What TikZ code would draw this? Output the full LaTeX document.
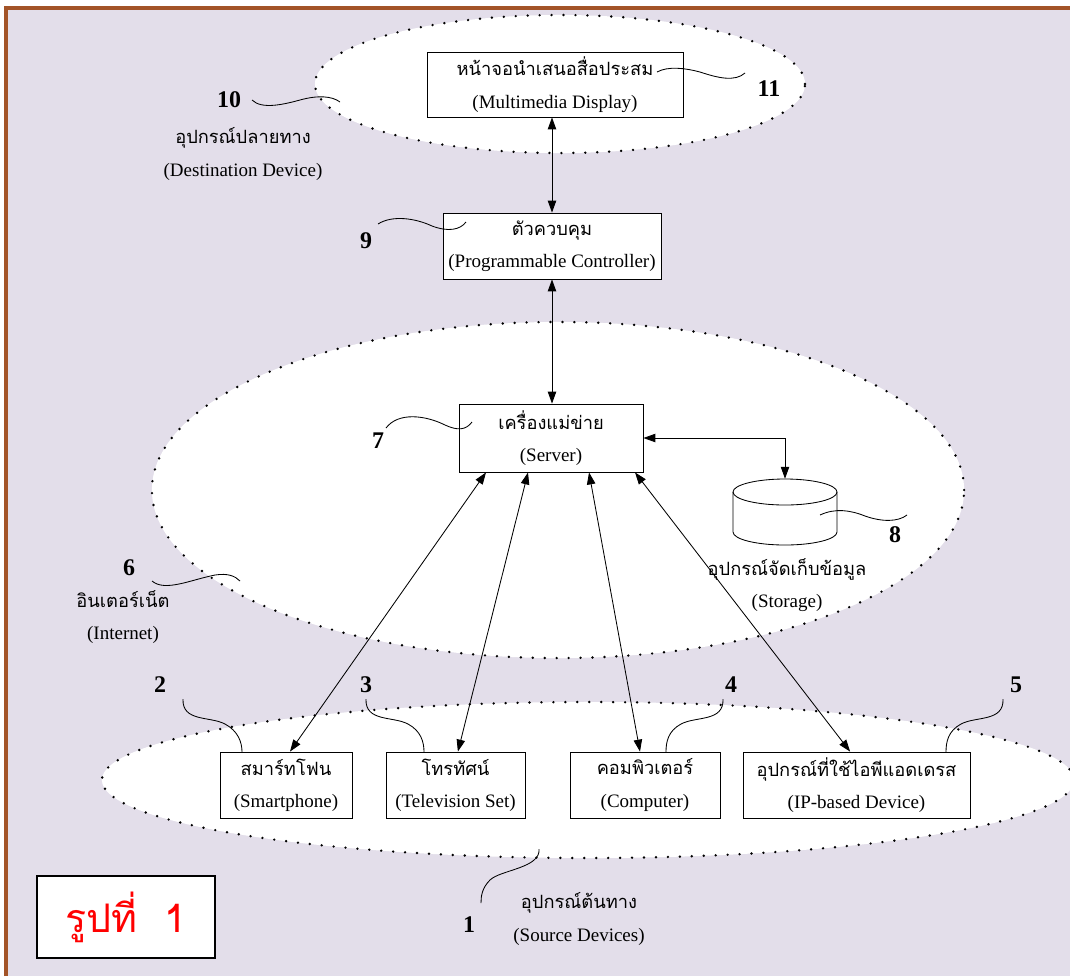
\documentclass[tikz,border=0pt]{standalone}
\usepackage{fontspec}
\setmainfont{Liberation Serif}
\newfontfamily\thaifont[Script=Thai]{Loma}
\usetikzlibrary{arrows.meta}
\definecolor{mylavender}{RGB}{227,222,234}
\definecolor{mybrown}{RGB}{163,84,40}
\definecolor{myred}{RGB}{255,0,0}
\newcommand{\thaitext}[1]{{\thaifont\fontsize{13}{23}\selectfont #1}}

\begin{document}
\begin{tikzpicture}[x=0.025cm,y=-0.025cm,
every node/.style={font=\fontsize{13.5}{23}\selectfont},
devbox/.style={draw,fill=white,line width=0.6pt,align=center,inner sep=0pt},
num/.style={font=\bfseries\fontsize{17}{17}\selectfont},
caption/.style={align=center},
zone/.style={fill=white,line width=1.9pt,line cap=round,dash pattern=on 0pt off 8.5pt},
link/.style={{Triangle[length=8.5pt,width=6pt]}-{Triangle[length=8.5pt,width=6pt]},line width=0.6pt},
wave/.style={line width=0.6pt}]
\useasboundingbox (0,0) rectangle (1070,976);
% background and frame
\fill[white] (0,0) rectangle (1070,976);
\fill[mylavender] (6,8) rectangle (1070,976);
\draw[mybrown, line width=2.4pt] (6,976) -- (6,8) -- (1070,8);
% zones
\draw[zone] (560,84) ellipse [x radius=6.125cm, y radius=1.725cm];
\draw[zone] (558,490) ellipse [x radius=10.15cm, y radius=4.2cm];
\draw[zone] (588,780) ellipse [x radius=12.15cm, y radius=1.95cm];
% devices
\node[devbox, minimum width=6.4cm, minimum height=1.625cm] (display) at (555,84.5)
  {\thaitext{หน้าจอนำเสนอสื่อประสม}\\(Multimedia Display)};
\node[devbox, minimum width=5.45cm, minimum height=1.65cm] (control) at (552,246)
  {\thaitext{ตัวควบคุม}\\(Programmable Controller)};
\node[devbox, minimum width=4.6cm, minimum height=1.7cm] (server) at (551,438)
  {\thaitext{เครื่องแม่ข่าย}\\(Server)};
\node[devbox, minimum width=3.3cm, minimum height=1.65cm] (phone) at (286,785)
  {\thaitext{สมาร์ทโฟน}\\(Smartphone)};
\node[devbox, minimum width=3.475cm, minimum height=1.65cm] (tv) at (455.5,785)
  {\thaitext{โทรทัศน์}\\(Television Set)};
\node[devbox, minimum width=3.75cm, minimum height=1.65cm] (computer) at (645,785)
  {\thaitext{คอมพิวเตอร์}\\(Computer)};
\node[devbox, minimum width=5.675cm, minimum height=1.65cm] (ipdev) at (856.5,785)
  {\thaitext{อุปกรณ์ที่ใช้ไอพีแอดเดรส}\\(IP-based Device)};
% storage
\node[minimum width=2.6cm, minimum height=1.65cm] (storage) at (785,512) {};
\draw[line width=0.6pt] (785,492) ellipse [x radius=1.3cm, y radius=0.325cm];
\draw[line width=0.6pt] (733,492) -- (733,532) arc [start angle=180, end angle=360, x radius=1.3cm, y radius=0.325cm] -- (837,492);
% links
\draw[link] (control.north) -- (control.north |- display.south);
\draw[link] (control.south) -- (control.south |- server.north);
\draw[link] (server.east) -| (storage.north);
\draw[link] ([xshift=-1.625cm]server.south) -- ([xshift=0.1cm]phone.north);
\draw[link] ([xshift=-0.575cm]server.south) -- ([xshift=0.06cm]tv.north);
\draw[link] ([xshift=0.95cm]server.south) -- ([xshift=-0.125cm]computer.north);
\draw[link] ([xshift=2.1cm]server.south) -- ([xshift=-0.16cm]ipdev.north);
% numbers
\node[num] (n1) at (469,925) {1};
\node[num] (n2) at (160,685) {2};
\node[num] (n3) at (366,685) {3};
\node[num] (n4) at (731,685) {4};
\node[num] (n5) at (1016,685) {5};
\node[num] (n6) at (129,568) {6};
\node[num] (n7) at (378,441) {7};
\node[num] (n8) at (895,535) {8};
\node[num] (n9) at (366,241) {9};
\node[num] (n10) at (229,100) {10};
\node[num] (n11) at (769,89) {11};
% captions
\node[caption] (cdest) at (243,154) {\thaitext{อุปกรณ์ปลายทาง}\\(Destination Device)};
\node[caption] (cnet) at (123,617) {\thaitext{อินเตอร์เน็ต}\\(Internet)};
\node[caption] (cstore) at (787,585) {\thaitext{อุปกรณ์จัดเก็บข้อมูล}\\(Storage)};
\node[caption] (csource) at (579,919) {\thaitext{อุปกรณ์ต้นทาง}\\(Source Devices)};
% pointers
\draw[wave] (252,100) .. controls (262,110) and (285,104) .. (300,100) .. controls (318,95) and (332,96) .. (340,102);
\draw[wave] (657,72) .. controls (668,66) and (685,68) .. (700,72) .. controls (718,78) and (735,82) .. (745,73);
\draw[wave] (378,224) .. controls (392,215) and (415,218) .. (432,226) .. controls (448,232) and (460,230) .. (466,222);
\draw[wave] (386,428) .. controls (398,412) and (425,415) .. (445,425) .. controls (458,431) and (466,430) .. (472,422);
\draw[wave] (820,515) .. controls (835,508) and (850,510) .. (865,516) .. controls (882,522) and (898,522) .. (907,515);
\draw[wave] (152,581) .. controls (165,592) and (190,580) .. (215,575) .. controls (228,573) and (235,576) .. (240,581);
\draw[wave] (183,699) .. controls (182,722) and (210,716) .. (225,724) .. controls (238,731) and (242,742) .. (242,752);
\draw[wave] (366,699) .. controls (365,722) and (393,716) .. (408,724) .. controls (421,731) and (424,742) .. (424,752);
\draw[wave] (723,699) .. controls (724,722) and (696,716) .. (681,724) .. controls (668,731) and (666,742) .. (666,752);
\draw[wave] (1003,699) .. controls (1004,722) and (976,716) .. (961,724) .. controls (948,731) and (946,742) .. (946,752);
\draw[wave] (539,849) .. controls (541,868) and (500,870) .. (490,880) .. controls (482,888) and (481,896) .. (481,903);
% figure tag
\node[draw, fill=white, line width=1pt, minimum width=4.45cm, minimum height=2.05cm,
  text=myred, font=\thaifont\fontsize{28}{28}\selectfont] (tag) at (126,917) {รูปที่~~1};
\end{tikzpicture}
\end{document}
